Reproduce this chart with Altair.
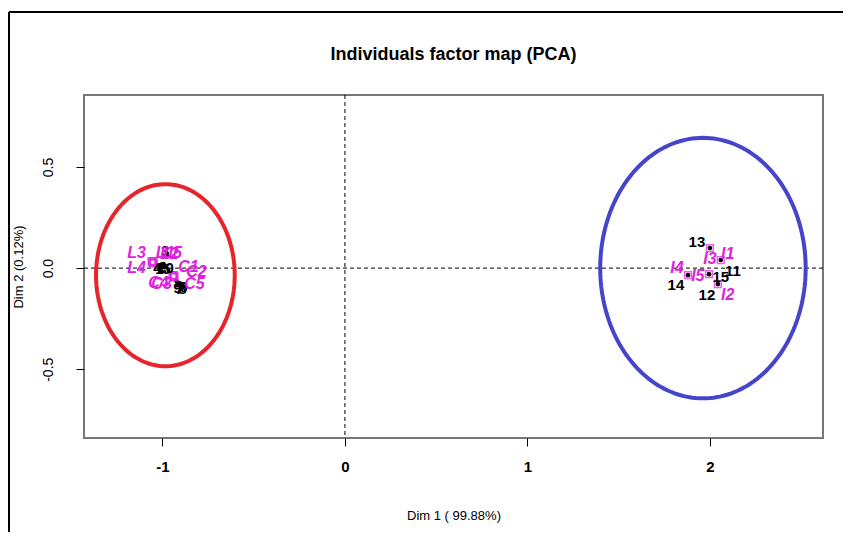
import altair as alt
import pandas as pd
import numpy as np

# ---- data ----
# active individuals (black)
act_names = ["1", "2", "3", "4", "5", "6", "7", "8", "9", "10", "11", "12", "13", "14", "15"]
act_x = [-1.005, -0.995, -0.978, -1.016, -0.989, -0.907, -0.918, -0.896, -0.923, -0.891,
         2.060, 2.044, 2.000, 1.880, 1.995]
act_y = [0.010, 0.020, 0.064, 0.000, 0.005, -0.074, -0.084, -0.094, -0.064, -0.079,
         0.040, -0.079, 0.099, -0.035, -0.030]
act_lx = [-1.016, -1.000, -0.985, -1.027, -0.978, -0.885, -0.907, -0.891, -0.918, -0.984,
          2.126, 1.984, 1.929, 1.814, 2.060]
act_ly = [-0.005, 0.005, 0.084, 0.000, -0.005, -0.094, -0.104, -0.104, -0.099, 0.000,
          -0.015, -0.134, 0.129, -0.084, -0.045]

# supplementary individuals (magenta)
sup_names = ["L1", "L2", "L3", "L4", "L5", "C1", "C2", "C3", "C4", "C5", "I1", "I2", "I3", "I4", "I5"]
sup_x = [-1.055, -1.049, -1.060, -1.055, -1.049, -0.940, -0.935, -0.945, -0.940, -0.935,
         2.060, 2.044, 2.000, 1.880, 1.995]
sup_y = [0.030, 0.025, 0.035, 0.025, 0.035, -0.040, -0.045, -0.035, -0.045, -0.035,
         0.040, -0.079, 0.099, -0.035, -0.030]
sup_lx = [-0.985, -0.962, -1.142, -1.142, -0.945, -0.858, -0.814, -1.005, -1.022, -0.825,
          2.098, 2.098, 2.000, 1.820, 1.934]
sup_ly = [0.074, 0.069, 0.074, 0.000, 0.074, 0.005, -0.020, -0.079, -0.074, -0.079,
          0.069, -0.134, 0.045, 0.000, -0.040]

# confidence ellipses
ell_group = ["left", "right"]
ell_cx = [-0.984, 1.962]
ell_cy = [-0.035, 0.0]
ell_ax = [0.380, 0.563]
ell_ay = [0.450, 0.644]
ell_color = ["#E8242B", "#4545CC"]

x_ticks = [-1, 0, 1, 2]
y_ticks = [-0.5, 0.0, 0.5]

# ---- tables ----
act = pd.DataFrame({"name": act_names, "x": act_x, "y": act_y, "lx": act_lx, "ly": act_ly})
sup = pd.DataFrame({"name": sup_names, "x": sup_x, "y": sup_y, "lx": sup_lx, "ly": sup_ly})

t = np.linspace(0, 2 * np.pi, 181)
rows = []
for g, cx, cy, ax_, ay_ in zip(ell_group, ell_cx, ell_cy, ell_ax, ell_ay):
    for i, tt in enumerate(t):
        rows.append({"g": g, "o": i, "x": cx + ax_ * np.cos(tt), "y": cy + ay_ * np.sin(tt)})
ell = pd.DataFrame(rows)

FONT = "Liberation Sans"
xs = alt.Scale(domain=[-1.43, 2.62], nice=False, zero=False)
ys = alt.Scale(domain=[-0.84, 0.856], nice=False, zero=False)

HYPHEN = "replace(datum.label, '\u2212', '-')"

xaxis = alt.Axis(values=x_ticks, format="d", labelExpr=HYPHEN, grid=False, domain=False,
                 tickSize=8, tickColor="black", labelFont=FONT, labelFontSize=15,
                 labelFontWeight="bold", labelColor="black", labelPadding=13,
                 title="Dim 1 ( 99.88%)", titleFont=FONT, titleFontSize=13,
                 titleFontWeight="normal", titleColor="black", titleY=77,
                 titleBaseline="middle")
yaxis = alt.Axis(values=y_ticks, format=".1f", labelExpr=HYPHEN, grid=False, domain=False,
                 tickSize=8, tickColor="black", labelFont=FONT, labelFontSize=14,
                 labelColor="black", labelAngle=-90, labelAlign="center",
                 labelBaseline="bottom", labelPadding=21,
                 title="Dim 2 (0.12%)", titleFont=FONT, titleFontSize=13,
                 titleFontWeight="normal", titleColor="black", titleX=-66,
                 titleBaseline="middle")

base_x = alt.X("x:Q", scale=xs, axis=xaxis)
base_y = alt.Y("y:Q", scale=ys, axis=yaxis)

vline = alt.Chart(pd.DataFrame({"x": [0.0]})).mark_rule(
    color="black", strokeWidth=1, strokeDash=[4, 3]).encode(x=alt.X("x:Q", scale=xs))
hline = alt.Chart(pd.DataFrame({"y": [0.0]})).mark_rule(
    color="black", strokeWidth=1, strokeDash=[4, 3]).encode(y=alt.Y("y:Q", scale=ys))

ellipses = alt.Chart(ell).mark_line(strokeWidth=4).encode(
    x=base_x, y=base_y, order="o:Q", detail="g:N",
    color=alt.Color("g:N", scale=alt.Scale(domain=ell_group, range=ell_color), legend=None))

act_pts = alt.Chart(act).mark_circle(size=22, color="black", opacity=1).encode(
    x=alt.X("x:Q", scale=xs), y=alt.Y("y:Q", scale=ys))
act_lbl = alt.Chart(act).mark_text(font=FONT, fontSize=15, fontWeight="bold", color="black",
                                   baseline="middle", align="center").encode(
    x=alt.X("lx:Q", scale=xs), y=alt.Y("ly:Q", scale=ys), text="name:N")

sup_pts = alt.Chart(sup).mark_square(size=45, filled=False, color="#DD22DD", strokeWidth=1.5).encode(
    x=alt.X("x:Q", scale=xs), y=alt.Y("y:Q", scale=ys))
sup_lbl = alt.Chart(sup).mark_text(font=FONT, fontSize=16, fontStyle="italic", fontWeight="bold",
                                   color="#DD22DD", baseline="middle", align="center").encode(
    x=alt.X("lx:Q", scale=xs), y=alt.Y("ly:Q", scale=ys), text="name:N")

# outer figure frame (decoration)
frame_df = pd.DataFrame({"a": [0]})
frame_left = alt.Chart(frame_df).mark_rule(color="black", strokeWidth=2).encode(
    x=alt.value(-75), y=alt.value(-83), y2=alt.value(437))
frame_top = alt.Chart(frame_df).mark_rule(color="black", strokeWidth=2).encode(
    x=alt.value(-75), x2=alt.value(759), y=alt.value(-83))

chart = alt.layer(
    vline, hline, ellipses, act_pts, sup_pts, act_lbl, sup_lbl, frame_left, frame_top
).properties(
    width=739, height=343,
    title=alt.TitleParams("Individuals factor map (PCA)", font=FONT, fontSize=18,
                          fontWeight="bold", color="black", anchor="middle", offset=-53),
    autosize=alt.AutoSizeParams(type="none"),
    padding={"left": 76, "top": 87, "right": 20, "bottom": 94},
    background="white",
).configure_view(stroke="#777777", strokeWidth=2)

chart.save("out.html", embed_options={"renderer": "svg", "actions": False})
